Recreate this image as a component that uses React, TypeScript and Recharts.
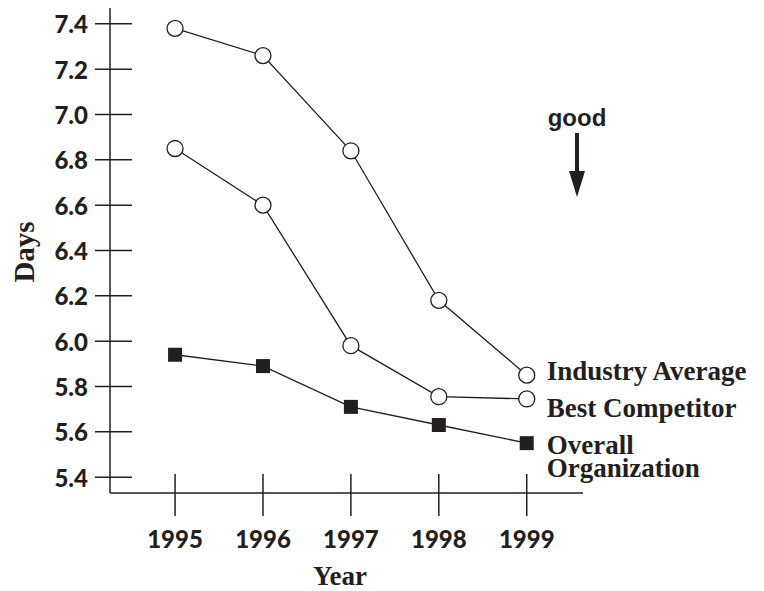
import React from 'react';
import { LineChart, Line, XAxis, YAxis } from 'recharts';

const INK = '#231f20';

const years = [1995, 1996, 1997, 1998, 1999];
const industryAverage = [7.38, 7.26, 6.84, 6.18, 5.85];
const bestCompetitor = [6.85, 6.6, 5.98, 5.755, 5.745];
const overallOrganization = [5.94, 5.89, 5.71, 5.63, 5.55];
const yTicks = [5.4, 5.6, 5.8, 6.0, 6.2, 6.4, 6.6, 6.8, 7.0, 7.2, 7.4];
const seriesLabels = {
  industry: ['Industry Average'],
  best: ['Best Competitor'],
  overall: ['Overall', 'Organization'],
};

const data = years.map((year, i) => ({
  year,
  industry: industryAverage[i],
  best: bestCompetitor[i],
  overall: overallOrganization[i],
}));

const SANS = 'Lato, "Open Sans", sans-serif';
const SERIF = '"Liberation Serif", "DejaVu Serif", serif';

const YTick = (props: any) => {
  const { x, y, payload } = props;
  return (
    <g>
      <line x1={x - 15} x2={x + 22} y1={y} y2={y} stroke={INK} strokeWidth={1.5} />
      <text
        x={x - 22}
        y={y}
        textAnchor="end"
        dominantBaseline="central"
        fontFamily={SANS}
        fontWeight={900}
        fontSize={24}
        fill={INK}
      >
        {Number(payload.value).toFixed(1)}
      </text>
    </g>
  );
};

const XTick = (props: any) => {
  const { x, y, payload } = props;
  return (
    <g>
      <line x1={x} x2={x} y1={y - 19} y2={y + 23} stroke={INK} strokeWidth={1.5} />
      <text
        x={x}
        y={y + 45}
        textAnchor="middle"
        dominantBaseline="central"
        fontFamily={SANS}
        fontWeight={900}
        fontSize={24}
        fill={INK}
      >
        {payload.value}
      </text>
    </g>
  );
};

const makeEndLabel = (lines: string[], dy: number) => (props: any) => {
  const { x, y, index } = props;
  if (index !== years.length - 1) return null;
  return (
    <text
      key={`lbl-${lines[0]}`}
      x={x + 20}
      y={y + dy}
      fontFamily={SERIF}
      fontWeight={700}
      fontSize={27}
      fill={INK}
      dominantBaseline="central"
    >
      {lines.map((l, i) => (
        <tspan key={l} x={x + 20} dy={i === 0 ? 0 : 23}>
          {l}
        </tspan>
      ))}
    </text>
  );
};

const SquareDot = (props: any) => {
  const { cx, cy, index } = props;
  return <rect key={`sq-${index}`} x={cx - 7} y={cy - 7} width={14} height={14} fill={INK} />;
};

const circleDot = { r: 8, fill: '#ffffff', stroke: INK, strokeWidth: 1.3 };

export default function App() {
  return (
    <div style={{ position: 'absolute', left: 0, top: 0, width: 764, height: 591, background: '#fff' }}>
      <LineChart
        width={764}
        height={591}
        data={data}
        margin={{ top: 8, right: 181, bottom: 38, left: 0 }}
      >
        <XAxis
          dataKey="year"
          type="number"
          domain={[1994.26, 1999.64]}
          ticks={years}
          allowDataOverflow
          height={60}
          tickSize={0}
          tickMargin={0}
          tickLine={false}
          axisLine={{ stroke: INK, strokeWidth: 1.5 }}
          tick={<XTick />}
          interval={0}
          label={(p: any) => (
            <text
              x={340}
              y={576}
              textAnchor="middle"
              dominantBaseline="central"
              fontFamily={SERIF}
              fontWeight={700}
              fontSize={27}
              fill={INK}
            >
              Year
            </text>
          )}
        />
        <YAxis
          type="number"
          domain={[5.33, 7.47]}
          ticks={yTicks}
          allowDataOverflow
          width={110}
          tickSize={0}
          tickMargin={0}
          tickLine={false}
          axisLine={{ stroke: INK, strokeWidth: 1.5 }}
          tick={<YTick />}
          interval={0}
          label={(p: any) => (
            <text
              x={24}
              y={252}
              textAnchor="middle"
              dominantBaseline="central"
              fontFamily={SERIF}
              fontWeight={700}
              fontSize={29}
              fill={INK}
              transform="rotate(-90 24 252)"
            >
              Days
            </text>
          )}
        />
        <Line
          type="linear"
          dataKey="industry"
          stroke={INK}
          strokeWidth={1.3}
          dot={circleDot}
          activeDot={false}
          isAnimationActive={false}
          label={makeEndLabel(seriesLabels.industry, -4)}
        />
        <Line
          type="linear"
          dataKey="best"
          stroke={INK}
          strokeWidth={1.3}
          dot={circleDot}
          activeDot={false}
          isAnimationActive={false}
          label={makeEndLabel(seriesLabels.best, 9)}
        />
        <Line
          type="linear"
          dataKey="overall"
          stroke={INK}
          strokeWidth={1.3}
          dot={<SquareDot />}
          activeDot={false}
          isAnimationActive={false}
          label={makeEndLabel(seriesLabels.overall, 2)}
        />
      </LineChart>
      <svg
        width={764}
        height={591}
        style={{ position: 'absolute', left: 0, top: 0, pointerEvents: 'none' }}
      >
        <text
          x={577}
          y={117}
          textAnchor="middle"
          dominantBaseline="central"
          fontFamily='"Liberation Sans", Arial, sans-serif'
          fontWeight={700}
          fontSize={24}
          fill={INK}
        >
          good
        </text>
        <line x1={577} x2={577} y1={133} y2={176} stroke={INK} strokeWidth={4} />
        <polygon points="569,171 585,171 577,197" fill={INK} />
      </svg>
    </div>
  );
}
